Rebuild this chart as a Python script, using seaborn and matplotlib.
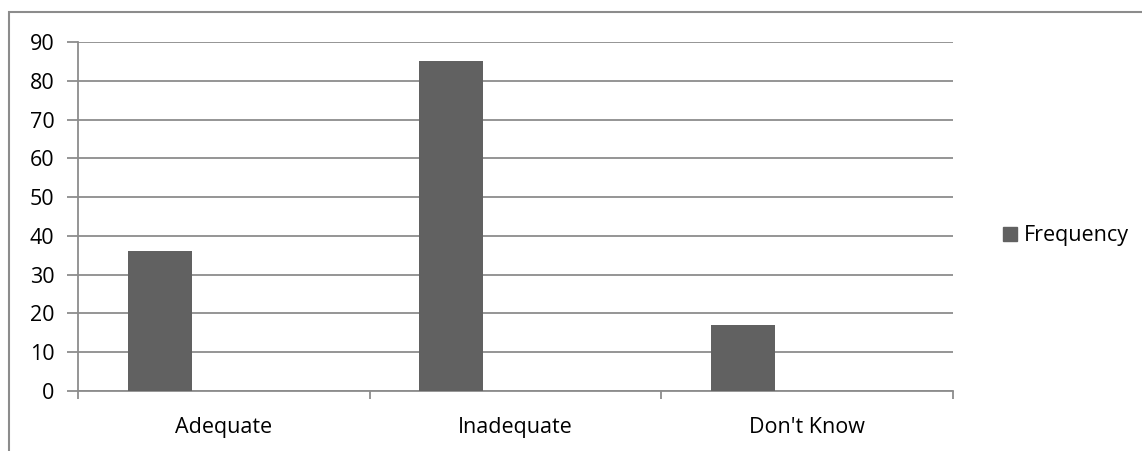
import matplotlib
matplotlib.use("Agg")
import matplotlib.pyplot as plt
import matplotlib.patches as mpatches
import seaborn as sns
import pandas as pd

categories = ["Adequate", "Inadequate", "Don't Know"]
frequency = [36, 85, 17]
y_ticks = [0, 10, 20, 30, 40, 50, 60, 70, 80, 90]

df = pd.DataFrame({"category": categories, "Frequency": frequency})

sns.set_style("white")
plt.rcParams["font.family"] = ["Open Sans", "DejaVu Sans"]
plt.rcParams["text.color"] = "black"
plt.rcParams["xtick.color"] = "black"
plt.rcParams["ytick.color"] = "black"

grey = "#8c8c8c"
bar_col = "#616161"
fs = 15.5

fig = plt.figure(figsize=(11.42, 4.51), dpi=100)
ax = fig.add_axes([78 / 1142, 1 - 391 / 451, (953 - 78) / 1142, (391 - 42) / 451])

sns.barplot(data=df, x="category", y="Frequency", color=bar_col, width=0.22,
            saturation=1, ax=ax, zorder=3)
# excel-style clustered slot: bar sits left of the category centre
for p in ax.patches:
    p.set_x(p.get_x() - 0.22)
    p.set_edgecolor("none")

ax.set_xlim(-0.5, len(categories) - 0.5)
ax.set_ylim(0, 90)
ax.set_yticks(y_ticks)
ax.set_xlabel("")
ax.set_ylabel("")
ax.grid(axis="y", color=grey, lw=1.3, zorder=0)
ax.grid(axis="x", visible=False)

for s in ["top", "right"]:
    ax.spines[s].set_visible(False)
for s in ["left", "bottom"]:
    ax.spines[s].set_color(grey)
    ax.spines[s].set_linewidth(1.3)

ax.tick_params(axis="y", length=8, width=1.3, color=grey, pad=9, labelsize=fs,
               labelcolor="black", left=True)
ax.set_xticks([i + 0.5 for i in range(-1, len(categories))], minor=True)
ax.tick_params(axis="x", which="minor", length=6, width=1.3, color=grey, direction="out", bottom=True)
ax.tick_params(axis="x", which="major", length=0, pad=19, labelsize=fs, labelcolor="black")

handle = mpatches.Patch(color=bar_col, label="Frequency")
fig.legend(handles=[handle], loc="center left", bbox_to_anchor=(994 / 1142, 1 - 236 / 451),
           frameon=False, fontsize=fs, handlelength=0.65, handleheight=0.65,
           handletextpad=0.35, borderaxespad=0, labelcolor="black")

border = mpatches.Rectangle((9 / 1142, -0.05), 1.0, 0.05 + (1 - 12 / 451),
                            transform=fig.transFigure, fill=False,
                            edgecolor=grey, lw=1.5, clip_on=False)
fig.patches.append(border)

fig.savefig("out.png", dpi=100)
